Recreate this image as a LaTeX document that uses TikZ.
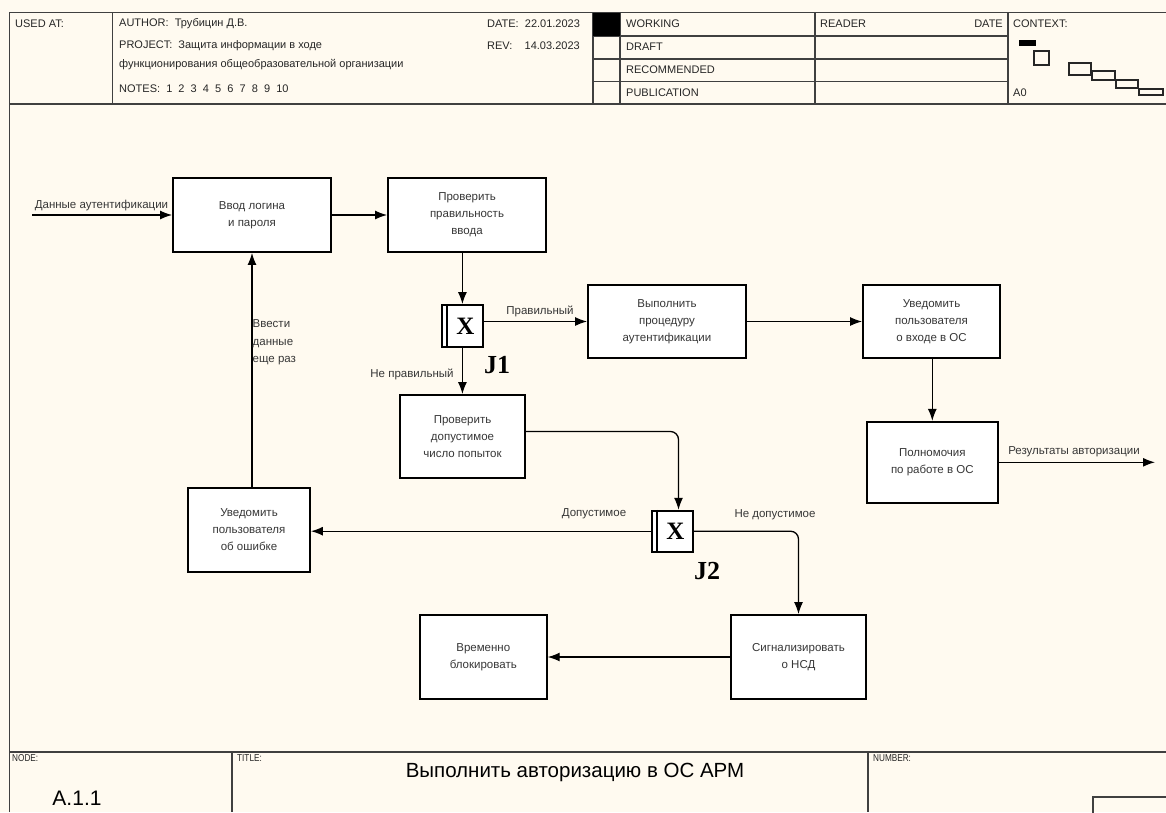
\documentclass[tikz,border=0pt]{standalone}
\usepackage{fontspec}
\setmainfont{Liberation Sans}
\newfontfamily\serifbold{Liberation Serif}
\newfontfamily\narrowfont[FakeStretch=0.82]{Liberation Sans}
\usetikzlibrary{arrows.meta}
\definecolor{paper}{RGB}{255,250,240}
\definecolor{ink}{RGB}{55,55,55}

\begin{document}
\begin{tikzpicture}[x=1pt,y=-1pt,
  frame/.style={draw=black!75, line width=1.3pt},
  act/.style={draw=black, line width=1.8pt, fill=white, inner sep=0pt,
    text=ink, font=\fontsize{11.5}{17}\selectfont, align=center},
  flow/.style={draw=black, line width=1.3pt, -{Latex[length=12pt,width=9pt]}},
  lbl/.style={text=ink, font=\fontsize{11.5}{17.5}\selectfont, inner sep=0pt},
  hdr/.style={text=black!85, font=\fontsize{11}{13}\selectfont, inner sep=0pt, anchor=west},
  small/.style={text=black!85, font=\narrowfont\fontsize{10}{11}\selectfont, inner sep=0pt, anchor=west},
  jbox/.style={draw=black, line width=1.8pt, fill=white, inner sep=0pt},
  jx/.style={font=\serifbold\bfseries\fontsize{25}{25}\selectfont, inner sep=0pt},
  jtag/.style={font=\serifbold\bfseries\fontsize{26}{26}\selectfont, inner sep=0pt},
]
% page
\fill[paper] (0,0) rectangle (1166,812);
\useasboundingbox (0,0) rectangle (1166,812);

% ---------- header frame ----------
\draw[frame] (9.3,812) -- (9.3,12.7) -- (1166,12.7);
\draw[frame] (9.3,104) -- (1166,104);
\foreach \xx in {112.7,593,620,815,1008}
  \draw[frame] (\xx,12.7) -- (\xx,104);
\foreach \yy in {36,59,81.5}
  \draw[frame] (593,\yy) -- (1008,\yy);
\fill[black] (593,12.7) rectangle (620,36);

\node[hdr] (usedat) at (15,24) {USED AT:};
\node[hdr] (author) at (119,24) {AUTHOR:\ \ Трубицин Д.В.};
\node[hdr] (date) at (487,24) {DATE:\ \ 22.01.2023};
\node[hdr] (project) at (119,46) {PROJECT:\ \ Защита информации в ходе};
\node[hdr] (rev) at (487,46) {REV:\ \ \ \ 14.03.2023};
\node[hdr] (project2) at (119,65) {функционирования общеобразовательной организации};
\node[hdr] (notes) at (119,89) {NOTES:\ \ 1\ \ 2\ \ 3\ \ 4\ \ 5\ \ 6\ \ 7\ \ 8\ \ 9\ \ 10};
\node[hdr] (working) at (626,24) {WORKING};
\node[hdr] (draft) at (626,47) {DRAFT};
\node[hdr] (recom) at (626,70) {RECOMMENDED};
\node[hdr] (public) at (626,93) {PUBLICATION};
\node[hdr] (reader) at (820,24) {READER};
\node[hdr, anchor=east] (rdate) at (1003,24) {DATE};
\node[hdr] (context) at (1013,24) {CONTEXT:};
\node[hdr] (azero) at (1013,93) {A0};

% context thumbnail
\fill[black] (1019,40) rectangle (1036,45.5);
\begin{scope}[draw=black!85, line width=1.1pt]
  \draw (1034,51) rectangle (1049,65);
  \draw (1069,63) rectangle (1091,75);
  \draw (1092,71) rectangle (1115,80);
  \draw (1116,80) rectangle (1138,88);
  \draw (1139,89) rectangle (1163,95);
\end{scope}

% ---------- bottom frame ----------
\draw[frame] (9.3,752) -- (1166,752);
\draw[frame] (232,752) -- (232,812);
\draw[frame] (868,752) -- (868,812);
\draw[frame] (1093,815) -- (1093,797) -- (1170,797);
\node[small] (nodelbl) at (12,758) {NODE:};
\node[small] (titlelbl) at (237,758) {TITLE:};
\node[small] (numlbl) at (873,758) {NUMBER:};
\node[text=black, font=\fontsize{20.5}{24}\selectfont, inner sep=0pt] (title) at (575,772) {Выполнить авторизацию в ОС АРМ};
\node[text=black, font=\fontsize{21}{24}\selectfont, inner sep=0pt] (nodeid) at (77,798) {A.1.1};

% ---------- activities ----------
\node[act, minimum width=158pt, minimum height=74pt] (vvod) at (252,215) {Ввод логина\\и пароля};
\node[act, minimum width=158pt, minimum height=74pt] (prov) at (467,215) {Проверить\\правильность\\ввода};
\node[act, minimum width=158pt, minimum height=73pt] (vyp) at (667,321.5) {Выполнить\\процедуру\\аутентификации};
\node[act, minimum width=137pt, minimum height=73pt] (uv) at (931.5,321.5) {Уведомить\\пользователя\\о входе в ОС};
\node[act, minimum width=131pt, minimum height=81pt] (pol) at (932.3,462.3) {Полномочия\\по работе в ОС};
\node[act, minimum width=125pt, minimum height=83pt] (chk) at (462.5,436.5) {Проверить\\допустимое\\число попыток};
\node[act, minimum width=122pt, minimum height=84pt] (err) at (249,530) {Уведомить\\пользователя\\об ошибке};
\node[act, minimum width=135pt, minimum height=84pt] (sig) at (798.5,657) {Сигнализировать\\о НСД};
\node[act, minimum width=127pt, minimum height=84pt] (vrem) at (483.3,657) {Временно\\блокировать};

% ---------- junctions ----------
\node[jbox, minimum width=41.3pt, minimum height=42pt] (J1) at (462.4,326) {};
\draw[line width=1.8pt] ([xshift=6.5pt]J1.north west) -- ([xshift=6.5pt]J1.south west);
\node[jx] (J1x) at ([xshift=3pt]J1.center) {X};
\node[jtag] (J1t) at (497,365) {J1};

\node[jbox, minimum width=41.6pt, minimum height=41pt] (J2) at (672.5,531.2) {};
\draw[line width=1.8pt] ([xshift=6.5pt]J2.north west) -- ([xshift=6.5pt]J2.south west);
\node[jx] (J2x) at ([xshift=3pt]J2.center) {X};
\node[jtag] (J2t) at (707,571) {J2};

% ---------- connectors ----------
\coordinate (inp) at (32,215);
\coordinate (outp) at (1155,462.3);
\draw[flow] (inp) -- (vvod.west);
\draw[flow] (vvod.east) -- (prov.west);
\draw[flow] (prov.south -| J1.north) -- (J1.north);
\draw[flow] (J1.east |- vyp.west) -- (vyp.west);
\draw[flow] (vyp.east) -- (uv.west);
\draw[flow] (uv.south -| pol.north) -- (pol.north);
\draw[flow] (pol.east) -- (outp);
\draw[flow] (J1.south) -- (J1.south |- chk.north);
\draw[flow, rounded corners=8pt] ([yshift=5pt]chk.east) -| ([xshift=6pt]J2.north);
\draw[flow] (J2.west) -- (J2.west -| err.east);
\draw[flow, rounded corners=8pt] (J2.east) -| (sig.north);
\draw[flow] (sig.west) -- (vrem.east);
\draw[flow] (vvod.south |- err.north) -- (vvod.south);

% ---------- connector labels ----------
\node[lbl] (l-in) at (101.5,206) {Данные аутентификации};
\node[lbl] (l-ok) at (540,311.5) {Правильный};
\node[lbl] (l-bad) at (412,374) {Не правильный};
\node[lbl, anchor=west, align=left] (l-again) at (252.5,342.5) {Ввести\\данные\\еще раз};
\node[lbl] (l-allow) at (594,514) {Допустимое};
\node[lbl] (l-deny) at (775,515) {Не допустимое};
\node[lbl] (l-out) at (1074,451.5) {Результаты авторизации};
\end{tikzpicture}
\end{document}
